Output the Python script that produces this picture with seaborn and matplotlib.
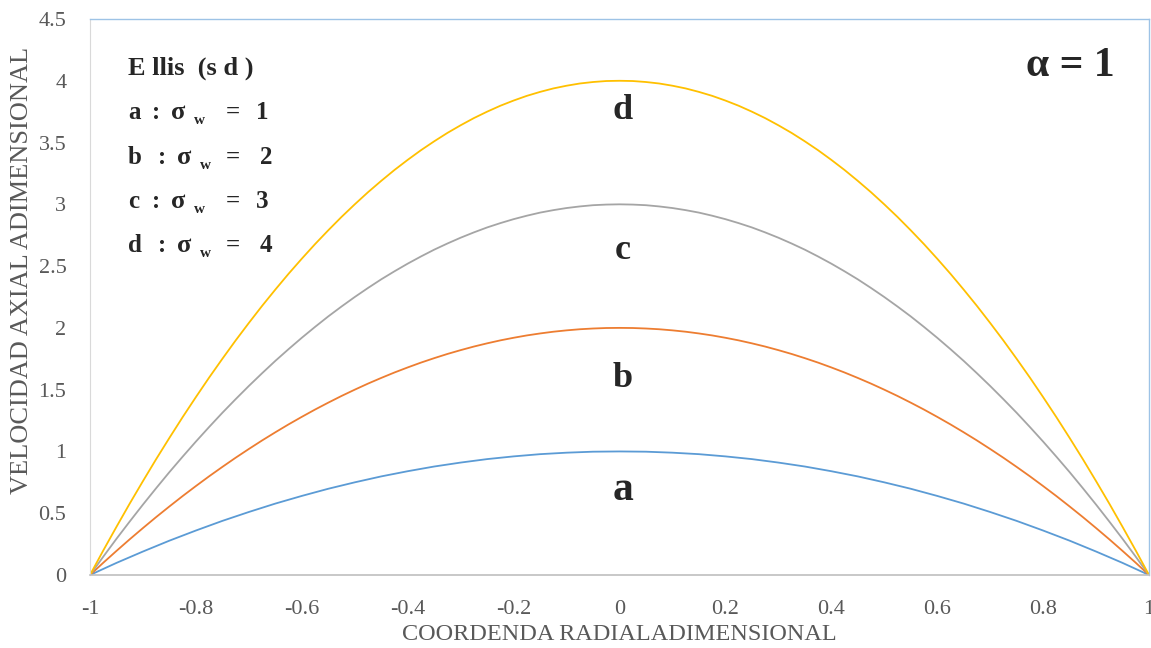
import matplotlib
matplotlib.use("Agg")
import matplotlib.pyplot as plt
from matplotlib.ticker import MultipleLocator, FuncFormatter
import pandas as pd
import seaborn as sns

# Left half of the radial coordinate (profiles are symmetric about r = 0)
r_half = [-1.000, -0.975, -0.950, -0.925, -0.900, -0.875, -0.850, -0.825, -0.800, -0.775,
          -0.750, -0.725, -0.700, -0.675, -0.650, -0.625, -0.600, -0.575, -0.550, -0.525,
          -0.500, -0.475, -0.450, -0.425, -0.400, -0.375, -0.350, -0.325, -0.300, -0.275,
          -0.250, -0.225, -0.200, -0.175, -0.150, -0.125, -0.100, -0.075, -0.050, -0.025,
          0.000]

# Axial velocity on the left half, one list per wall stress
half_a = [0.000, 0.049, 0.098, 0.144, 0.190, 0.234, 0.278, 0.319, 0.360, 0.399,
          0.438, 0.474, 0.510, 0.544, 0.578, 0.609, 0.640, 0.669, 0.698, 0.724,
          0.750, 0.774, 0.798, 0.819, 0.840, 0.859, 0.878, 0.894, 0.910, 0.924,
          0.938, 0.949, 0.960, 0.969, 0.978, 0.984, 0.990, 0.994, 0.998, 0.999,
          1.000]
half_b = [0.000, 0.099, 0.195, 0.289, 0.380, 0.469, 0.555, 0.639, 0.720, 0.799,
          0.875, 0.949, 1.020, 1.089, 1.155, 1.219, 1.280, 1.339, 1.395, 1.449,
          1.500, 1.549, 1.595, 1.639, 1.680, 1.719, 1.755, 1.789, 1.820, 1.849,
          1.875, 1.899, 1.920, 1.939, 1.955, 1.969, 1.980, 1.989, 1.995, 1.999,
          2.000]
half_c = [0.000, 0.148, 0.293, 0.433, 0.570, 0.703, 0.833, 0.958, 1.080, 1.198,
          1.313, 1.423, 1.530, 1.633, 1.733, 1.828, 1.920, 2.008, 2.093, 2.173,
          2.250, 2.323, 2.393, 2.458, 2.520, 2.578, 2.633, 2.683, 2.730, 2.773,
          2.813, 2.848, 2.880, 2.908, 2.933, 2.953, 2.970, 2.983, 2.993, 2.998,
          3.000]
half_d = [0.000, 0.198, 0.390, 0.578, 0.760, 0.938, 1.110, 1.278, 1.440, 1.598,
          1.750, 1.898, 2.040, 2.178, 2.310, 2.438, 2.560, 2.678, 2.790, 2.898,
          3.000, 3.098, 3.190, 3.278, 3.360, 3.438, 3.510, 3.578, 3.640, 3.698,
          3.750, 3.798, 3.840, 3.878, 3.910, 3.938, 3.960, 3.978, 3.990, 3.998,
          4.000]

series_names = ["a", "b", "c", "d"]
half_values = [half_a, half_b, half_c, half_d]
sigma_w = [1, 2, 3, 4]
colors = ["#5B9BD5", "#ED7D31", "#A5A5A5", "#FFC000"]

# Mirror the left half onto the right half
r = r_half + [-v for v in reversed(r_half[:-1])]

sns.set_style("white")
plt.rcParams["font.family"] = ["Liberation Serif", "DejaVu Serif"]

frames = []
for name, half in zip(series_names, half_values):
    vals = half + list(reversed(half[:-1]))
    frames.append(pd.DataFrame({"r": r, "u": vals, "serie": name}))
df = pd.concat(frames, ignore_index=True)

W, H = 1151, 648
fig = plt.figure(figsize=(W / 100, H / 100), dpi=100)
ax = fig.add_axes([90 / W, 1 - 575 / H, 1059 / W, 556 / H])

sns.lineplot(data=df, x="r", y="u", hue="serie", palette=colors,
             linewidth=1.3, legend=False, ax=ax, sort=False)

ax.set_xlim(-1, 1)
ax.set_ylim(0, 4.5)
ax.xaxis.set_major_locator(MultipleLocator(0.2))
ax.xaxis.set_minor_locator(MultipleLocator(0.04))
ax.yaxis.set_major_locator(MultipleLocator(0.5))


def fmt(v, _):
    s = f"{v:.1f}".rstrip("0").rstrip(".")
    return "0" if s in ("-0", "0") else s


ax.xaxis.set_major_formatter(FuncFormatter(fmt))
ax.yaxis.set_major_formatter(FuncFormatter(fmt))

ax.tick_params(axis="x", which="major", direction="inout", length=14, width=1,
               color="#BFBFBF", labelsize=16, labelcolor="#595959", pad=11)
ax.tick_params(axis="x", which="minor", direction="inout", length=10, width=1,
               color="#BFBFBF")
ax.tick_params(axis="y", which="major", length=0, labelsize=16,
               labelcolor="#595959", pad=17)

for side in ("top", "right"):
    ax.spines[side].set_color("#9DC3E6")
    ax.spines[side].set_linewidth(1)
ax.spines["left"].set_color("#D9D9D9")
ax.spines["bottom"].set_color("#BFBFBF")
ax.spines["bottom"].set_linewidth(1.2)

ax.set_xlabel("COORDENDA RADIALADIMENSIONAL", fontsize=17.5, color="#595959")
ax.xaxis.set_label_coords(0.5, -(624 - 575) / 556)
ax.set_ylabel("VELOCIDAD AXIAL ADIMENSIONAL", fontsize=19, color="#595959")
ax.yaxis.set_label_coords((33 - 90) / 1059, (575 - 270) / 556)


def ftext(px, py, s, **kw):
    """Place text at pixel coordinates measured from the top-left corner."""
    fig.text(px / W, 1 - py / H, s, **kw)


# Title block of the annotation list
ftext(128, 75, "E llis  (s d )", fontsize=19, fontweight="bold", va="baseline")

rows_baseline = [119, 164, 208, 252]
label_end = {"a": 152, "b": 158, "c": 152, "d": 158}
num_x = {"a": 256, "b": 260, "c": 256, "d": 260}
for name, s, yb in zip(series_names, sigma_w, rows_baseline):
    shift = label_end[name] - 152
    ftext(128, yb, name, fontsize=18, fontweight="bold", va="baseline")
    ftext(label_end[name], yb, ":", fontsize=18, fontweight="bold", va="baseline")
    ftext(171 + shift, yb, "σ", fontsize=19, fontweight="bold", va="baseline")
    ftext(194 + shift, yb + 5, "w", fontsize=11, fontweight="bold", va="baseline")
    ftext(226, yb, "=", fontsize=18, fontweight="bold", va="baseline")
    ftext(num_x[name], yb, str(s), fontsize=18, fontweight="bold", va="baseline")

ax.text(0.936, 4.12, "α = 1", fontsize=30, fontweight="bold", ha="right", va="center")

# Curve letters just under each profile's peak
label_base = {"a": 0.607, "b": 1.52, "c": 2.56, "d": 3.69}
label_size = {"a": 30, "b": 26, "c": 26, "d": 26}
for name in series_names:
    ax.text(0.006, label_base[name], name, fontsize=label_size[name], fontweight="bold",
            ha="center", va="baseline")

fig.savefig("out.png", dpi=100)
